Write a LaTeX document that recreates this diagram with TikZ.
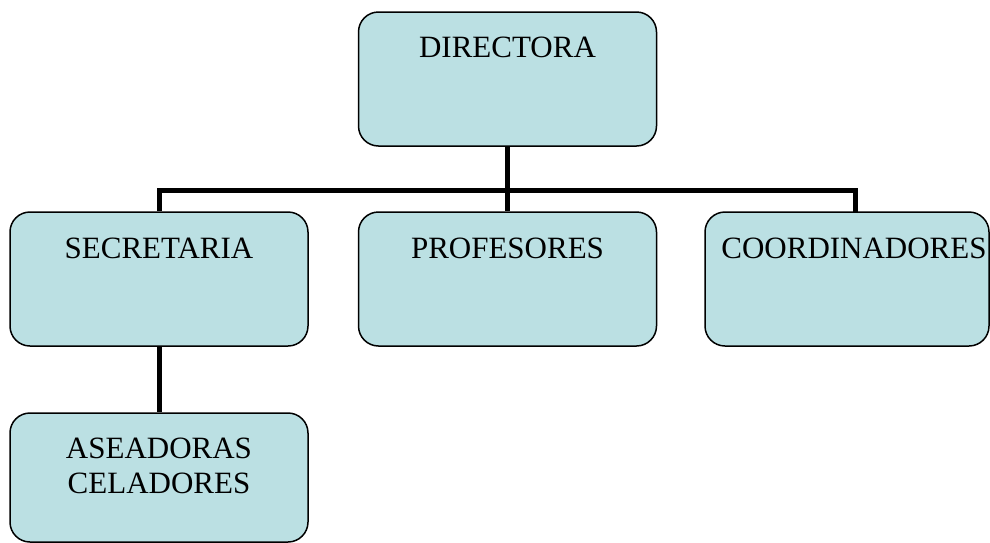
\documentclass[tikz,border=0pt]{standalone}
\usepackage{fontspec}
\setmainfont{Liberation Serif}
\definecolor{boxfill}{HTML}{BBE0E3}
\begin{document}
\begin{tikzpicture}[x=1pt,y=-1pt,
  box/.style={draw=black, line width=1.5pt, fill=boxfill, rounded corners=20pt,
    rectangle, inner sep=0pt, minimum width=298pt, minimum height=134pt},
  lbl/.style={font=\fontsize{31}{35}\selectfont, inner sep=0pt, anchor=base, align=center},
  conn/.style={line width=5pt, line join=miter, draw=black}]
\useasboundingbox (0,0) rectangle (990,542);
% boxes
\node[box] (dir) at (507.5,79) {};
\node[box] (sec) at (159,279) {};
\node[box] (prof) at (507.5,279) {};
\node[box, minimum width=284pt] (coord) at (847,279) {};
\node[box, minimum height=129pt] (asea) at (159,477.5) {};
% labels
\node[lbl] (tdir) at (507.5,57) {DIRECTORA};
\node[lbl] (tsec) at (159,258) {SECRETARIA};
\node[lbl] (tprof) at (507.5,258) {PROFESORES};
\node[lbl] (tcoord) at (854,258) {COORDINADORES};
\node[lbl] (tasea) at (159,493) {ASEADORAS\\CELADORES};
% connectors
\coordinate (bus) at (507.5,190);
\coordinate (ctop) at (855,212);
\draw[conn] (dir.south) -- (prof.north);
\draw[conn] (sec.north) |- (bus);
\draw[conn] (ctop) |- (bus);
\draw[conn] (sec.south) -- (asea.north);
\end{tikzpicture}
\end{document}
